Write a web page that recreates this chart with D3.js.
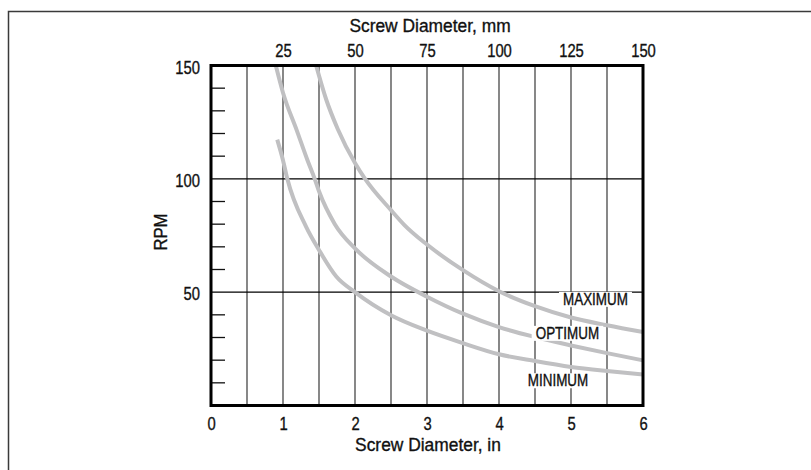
<!DOCTYPE html>
<html><head><meta charset="utf-8">
<script src="https://cdn.jsdelivr.net/npm/d3@7/dist/d3.min.js"></script>
<style>
html,body{margin:0;padding:0;background:#fff;}
svg{display:block;}
text{font-family:"Liberation Sans",Arial,sans-serif;fill:#111;stroke:#111;stroke-width:0.35px;}
</style></head>
<body><svg id="c" width="811" height="470"></svg>
<script>
// Data
const xTicksIn = [0, 1, 2, 3, 4, 5, 6];
const xTicksMm = [25, 50, 75, 100, 125, 150];
const yTicks = [50, 100, 150];
const yMinorTicks = [10, 20, 30, 40, 60, 70, 80, 90, 110, 120, 130, 140];
const xGrid = [0.5, 1, 1.5, 2, 2.5, 3, 3.5, 4, 4.5, 5, 5.5];
const hGrid = [50, 100];
const maxX = [1.46, 1.6, 1.76, 2, 2.14, 2.5, 2.69, 3, 3.5, 4, 4.5, 5, 5.5, 6];
const maxY = [150, 135, 122, 107, 100, 86.2, 79.5, 71, 59.7, 50.4, 43.8, 38.8, 35.4, 32.4];
const optX = [0.9, 1, 1.19, 1.34, 1.44, 1.5, 1.72, 2, 2.5, 3, 3.5, 4, 4.5, 5, 5.5, 6];
const optY = [150, 138, 121.5, 108.2, 100, 94.5, 80, 69.3, 56.9, 48, 40.5, 34.6, 30.2, 26.5, 23.1, 19.9];
const minX = [0.92, 1, 1.06, 1.32, 1.5, 1.74, 2, 2.5, 3, 3.5, 4, 4.5, 5, 5.5, 6];
const minY = [117.3, 108.2, 100, 78.9, 68.6, 56.9, 50, 39.8, 33, 27.5, 22.6, 19.6, 17, 15.2, 13.7];
const labels = [
  {text: "MAXIMUM", x: 5.34, y: 44.4},
  {text: "OPTIMUM", x: 4.95, y: 29.4},
  {text: "MINIMUM", x: 4.82, y: 8.5}
];

const svg = d3.select("#c");
const L = 211, R = 643, T = 65.5, B = 405.5;
const x = d3.scaleLinear().domain([0, 6]).range([L, R]);
const xmm = d3.scaleLinear().domain([0, 150]).range([L, R]);
const y = d3.scaleLinear().domain([0, 150]).range([B, T]);

// condense text horizontally around its anchor
function condense(sel, s) {
  sel.each(function () {
    const t = d3.select(this);
    const tx = +t.attr("x") || 0, ty = +t.attr("y") || 0;
    t.attr("x", 0).attr("y", 0).attr("transform", `translate(${tx},${ty}) scale(${s},1)`);
  });
}

// outer frame
svg.append("rect").attr("x", 8.5).attr("y", 11.5).attr("width", 900).attr("height", 600)
  .attr("fill", "none").attr("stroke", "#3a3a3a").attr("stroke-width", 1.5);

// vertical grid
svg.append("g").selectAll("line").data(xGrid).join("line")
  .attr("x1", d => x(d)).attr("x2", d => x(d)).attr("y1", T).attr("y2", B)
  .attr("stroke", "#555").attr("stroke-width", 1.4);
// horizontal grid
svg.append("g").selectAll("line").data(hGrid).join("line")
  .attr("x1", L).attr("x2", R).attr("y1", d => y(d)).attr("y2", d => y(d))
  .attr("stroke", "#000").attr("stroke-width", 1.1);
// minor ticks
svg.append("g").selectAll("line").data(yMinorTicks).join("line")
  .attr("x1", L).attr("x2", L + 14).attr("y1", d => y(d)).attr("y2", d => y(d))
  .attr("stroke", "#111").attr("stroke-width", 1.3);

// curves
const line = d3.line().x(d => x(d[0])).y(d => y(d[1])).curve(d3.curveMonotoneX);
[[maxX, maxY], [optX, optY], [minX, minY]].forEach(([xs, ys]) => {
  svg.append("path").datum(xs.map((v, i) => [v, ys[i]]))
    .attr("d", line).attr("fill", "none").attr("stroke", "#c0c0c2").attr("stroke-width", 4);
});

// labels with white background
const LS = 0.84;
labels.forEach(lb => {
  const g = svg.append("g");
  const t = g.append("text").attr("x", x(lb.x)).attr("y", y(lb.y)).attr("text-anchor", "middle")
    .attr("font-size", 16).text(lb.text);
  const bb = t.node().getBBox();
  const w = bb.width * LS;
  g.insert("rect", "text").attr("x", x(lb.x) - w / 2 - 4).attr("y", bb.y + 1)
    .attr("width", w + 8).attr("height", bb.height - 2).attr("fill", "#fff").attr("stroke", "none");
  condense(t, LS);
});

// frame
svg.append("rect").attr("x", L).attr("y", T).attr("width", R - L).attr("height", B - T)
  .attr("fill", "none").attr("stroke", "#000").attr("stroke-width", 3);

// axes (labels only)
const ax1 = svg.append("g").attr("transform", `translate(0,${B})`)
  .call(d3.axisBottom(x).tickValues(xTicksIn).tickSize(0).tickPadding(11).tickFormat(d3.format("d")));
const ax2 = svg.append("g").attr("transform", `translate(0,${T})`)
  .call(d3.axisTop(xmm).tickValues(xTicksMm).tickSize(0).tickPadding(8.5));
const ax3 = svg.append("g").attr("transform", `translate(${L},0)`)
  .call(d3.axisLeft(y).tickValues(yTicks).tickSize(0).tickPadding(11));
[ax1, ax2, ax3].forEach(a => {
  a.select(".domain").remove();
  a.selectAll("text").attr("font-size", 18.5).attr("fill", "#111")
    .style("font-family", '"Liberation Sans",Arial,sans-serif');
});
ax3.selectAll("text").attr("dy", "0.42em");
[ax1, ax2, ax3].forEach(a => condense(a.selectAll("text"), 0.8));

// titles
const tb = svg.append("text").attr("x", 428).attr("y", 450.5).attr("text-anchor", "middle")
  .attr("font-size", 18.5).text("Screw Diameter, in");
const tt = svg.append("text").attr("x", 430).attr("y", 31.5).attr("text-anchor", "middle")
  .attr("font-size", 18.5).text("Screw Diameter, mm");
condense(tb, 0.94);
condense(tt, 0.94);
svg.append("text").attr("transform", "translate(166.5,232) rotate(-90) scale(0.9,1)").attr("text-anchor", "middle")
  .attr("font-size", 18.5).text("RPM");
</script></body></html>
